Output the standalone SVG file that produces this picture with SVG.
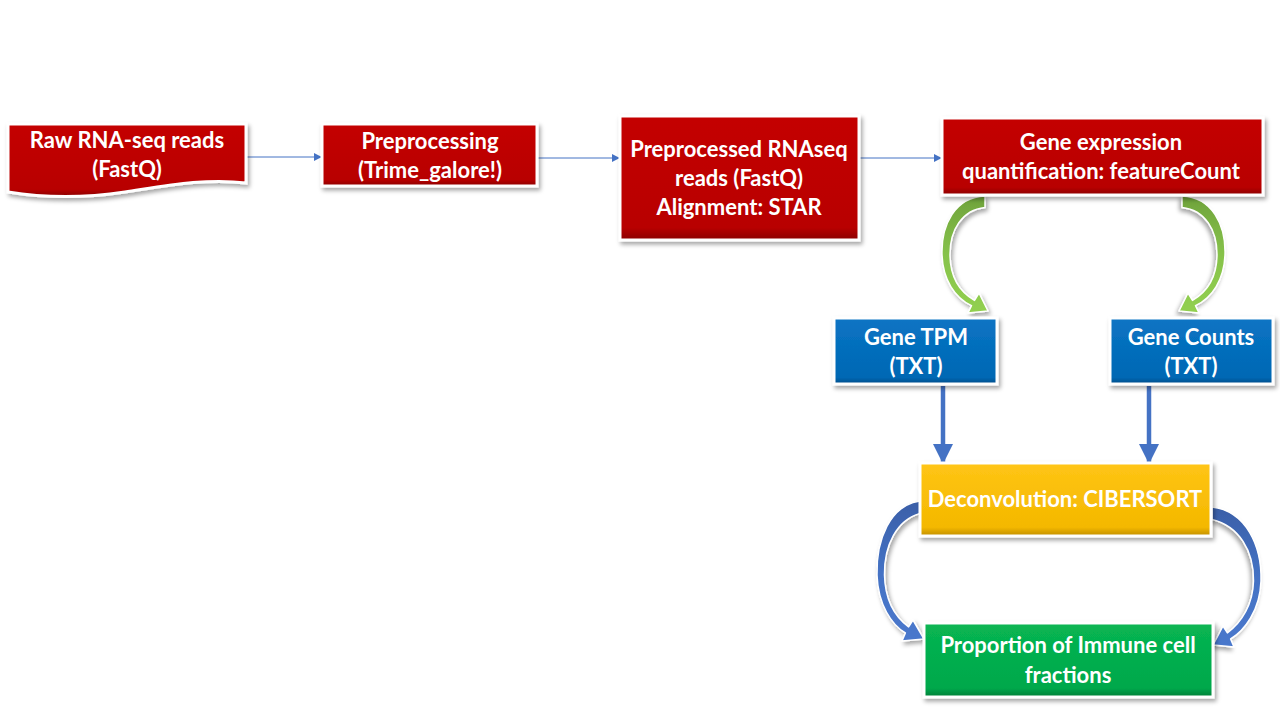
<svg xmlns="http://www.w3.org/2000/svg" width="1280" height="720" viewBox="0 0 1280 720">
<defs>
<filter id="sh" x="-10%" y="-10%" width="125%" height="135%">
<feDropShadow dx="2" dy="3" stdDeviation="2.2" flood-color="#000" flood-opacity="0.35"/>
</filter>
<linearGradient id="gRed" x1="0" y1="0" x2="0" y2="1">
<stop offset="0" stop-color="#C40000"/><stop offset="0.9" stop-color="#B80000"/><stop offset="1" stop-color="#8A0000"/>
</linearGradient>
<linearGradient id="gBlue" x1="0" y1="0" x2="0" y2="1">
<stop offset="0" stop-color="#0A74C4"/><stop offset="0.9" stop-color="#0068B4"/><stop offset="1" stop-color="#004C88"/>
</linearGradient>
<linearGradient id="gYel" x1="0" y1="0" x2="0" y2="1">
<stop offset="0" stop-color="#FFC515"/><stop offset="0.88" stop-color="#F4B800"/><stop offset="1" stop-color="#C08E00"/>
</linearGradient>
<linearGradient id="gGrn" x1="0" y1="0" x2="0" y2="1">
<stop offset="0" stop-color="#08B552"/><stop offset="0.88" stop-color="#00A84B"/><stop offset="1" stop-color="#007E38"/>
</linearGradient>
<linearGradient id="gArrG" x1="0" y1="0" x2="0" y2="1">
<stop offset="0" stop-color="#6FA33C"/><stop offset="0.5" stop-color="#86C24A"/><stop offset="1" stop-color="#92D050"/>
</linearGradient>
<linearGradient id="gArrB" x1="0" y1="0" x2="0" y2="1">
<stop offset="0" stop-color="#3A5FA8"/><stop offset="0.5" stop-color="#4472C4"/><stop offset="1" stop-color="#4A78CC"/>
</linearGradient>
<marker id="mThin" viewBox="0 0 10 10" refX="9" refY="5" markerWidth="8" markerHeight="8" markerUnits="userSpaceOnUse" orient="auto">
<path d="M0,0 L10,5 L0,10 Z" fill="#4472C4"/>
</marker>
<marker id="mThick" viewBox="0 0 10 10" refX="9" refY="5" markerWidth="4.5" markerHeight="4.5" orient="auto">
<path d="M0,0 L10,5 L0,10 Z" fill="#4472C4"/>
</marker>
</defs>
<style>
.box{stroke:#fff;stroke-width:3;filter:url(#sh)}
.t{font-family:Lato,"Open Sans","Liberation Sans",sans-serif;font-weight:bold;font-size:22px;fill:#fff;text-anchor:middle}
.thin{stroke:#4472C4;stroke-width:1;fill:none;marker-end:url(#mThin)}
.thick{stroke:#4472C4;stroke-width:4.5;fill:none;marker-end:url(#mThick)}
.ca{stroke:#fff;stroke-width:1.5;stroke-linejoin:round;filter:url(#sh)}
</style>
<rect width="1280" height="720" fill="#fff"/>

<g id="connectors">
<line class="thin" x1="246" y1="157" x2="321" y2="157"/>
<line class="thin" x1="538" y1="158" x2="619" y2="158"/>
<line class="thin" x1="860" y1="158" x2="941" y2="158"/>
<line class="thick" x1="943" y1="386" x2="943" y2="462"/>
<line class="thick" x1="1149" y1="386" x2="1149" y2="462"/>
<path id="ga1" class="ca" fill="url(#gArrG)" d="M985,196 C955,197 941,225 942,255 C943,280 955,298 971.5,305.6 L968,313 L988,311 L979,293 L974.5,300.4 C960,292 950.5,278 950,256 C949.5,230 962,210 985,207.5 Z"/>
<path id="ga2" class="ca" fill="url(#gArrG)" transform="translate(2167,0) scale(-1,1)" d="M985,196 C955,197 941,225 942,255 C943,280 955,298 971.5,305.6 L968,313 L988,311 L979,293 L974.5,300.4 C960,292 950.5,278 950,256 C949.5,230 962,210 985,207.5 Z"/>
<path id="ba1" class="ca" fill="url(#gArrB)" d="M920,501 C890,505 876,540 877,575 C878,605 892,625 905.4,633 L902,641 L924,639 L913,620 L908.6,626.9 C894,616 885,598 884.5,575 C884,545 897,520 920,513.5 Z"/>
<path id="ba2" class="ca" fill="url(#gArrB)" transform="translate(2136,6) scale(-1,1)" d="M924,501 C890,505 874,540 875,575 C876,605 892,625 905.4,633 L902,641 L923,639 L913,620 L908.6,626.9 C894,616 883,598 882.5,575 C882,545 897,520 924,513.5 Z"/>
</g>

<g id="raw">
<path class="box" fill="url(#gRed)" d="M8,124 H246 V183 C205,178 165,186 125,192 C85,198 45,198 8,192 Z"/>
<text class="t" x="127" y="148">Raw RNA-seq reads</text>
<text class="t" x="127" y="177">(FastQ)</text>
</g>
<g id="preproc">
<rect class="box" fill="url(#gRed)" x="322" y="124" width="215" height="62"/>
<text class="t" x="430" y="149">Preprocessing</text>
<text class="t" x="430" y="178">(Trime_galore!)</text>
</g>
<g id="align">
<rect class="box" fill="url(#gRed)" x="620" y="116" width="239" height="124"/>
<text class="t" x="739" y="157">Preprocessed RNAseq</text>
<text class="t" x="739" y="186">reads (FastQ)</text>
<text class="t" x="739" y="215">Alignment: STAR</text>
</g>
<g id="quant">
<rect class="box" fill="url(#gRed)" x="942" y="118" width="321" height="77"/>
<text class="t" x="1101" y="150">Gene expression</text>
<text class="t" x="1101" y="179">quantification: featureCount</text>
</g>
<g id="tpm">
<rect class="box" fill="url(#gBlue)" x="834" y="318" width="163" height="66"/>
<text class="t" x="916" y="345">Gene TPM</text>
<text class="t" x="916" y="374">(TXT)</text>
</g>
<g id="counts">
<rect class="box" fill="url(#gBlue)" x="1110" y="318" width="163" height="66"/>
<text class="t" x="1191" y="345">Gene Counts</text>
<text class="t" x="1191" y="374">(TXT)</text>
</g>
<g id="deconv">
<rect class="box" fill="url(#gYel)" x="920" y="463" width="291" height="73"/>
<text class="t" x="1065" y="507">Deconvolution: CIBERSORT</text>
</g>
<g id="prop">
<rect class="box" fill="url(#gGrn)" x="924" y="623" width="289" height="74"/>
<text class="t" x="1068" y="653">Proportion of Immune cell</text>
<text class="t" x="1068" y="683">fractions</text>
</g>
</svg>
